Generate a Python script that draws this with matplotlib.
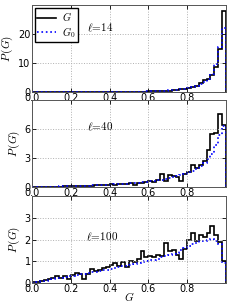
import numpy as np
import matplotlib
matplotlib.use('Agg')
import matplotlib.pyplot as plt

plt.rcParams['mathtext.fontset'] = 'cm'
plt.rcParams['font.family'] = 'DejaVu Sans'

# bin edges shared by all histograms (50 bins on [0, 1])
edges = np.linspace(0.0, 1.0, 51)

# l = 14
g14 = [0]*20 + [0.0, 0.0, 0.02, 0.03, 0.05, 0.06, 0.08, 0.1, 0.12, 0.15,
                0.2, 0.25, 0.3, 0.35, 0.4, 0.5, 0.6, 0.7, 0.9, 1.1,
                1.4, 1.6, 2.2, 3.0, 4.0, 4.5, 6.0, 8.5, 15.0, 28.0]
g0_14 = [0]*20 + [0.01, 0.02, 0.03, 0.04, 0.05, 0.07, 0.09, 0.11, 0.14, 0.17,
                  0.21, 0.26, 0.32, 0.38, 0.46, 0.55, 0.66, 0.8, 0.98, 1.2,
                  1.45, 1.8, 2.2, 2.8, 3.5, 4.6, 6.2, 9.5, 15.5, 22.0]

# l = 40
g40 = [0.0, 0.0, 0.01, 0.01, 0.02, 0.03, 0.04, 0.05, 0.06, 0.07,
       0.08, 0.1, 0.1, 0.12, 0.14, 0.15, 0.18, 0.2, 0.2, 0.22,
       0.3, 0.25, 0.3, 0.35, 0.3, 0.4, 0.2, 0.45, 0.4, 0.5,
       0.6, 0.55, 0.7, 1.3, 0.6, 1.2, 1.1, 1.0, 0.6, 1.3,
       1.6, 2.3, 2.0, 2.3, 2.7, 3.8, 5.5, 5.6, 7.6, 6.4]
g0_40 = [0.0, 0.0, 0.01, 0.02, 0.03, 0.04, 0.05, 0.06, 0.07, 0.08,
         0.09, 0.1, 0.11, 0.13, 0.14, 0.16, 0.17, 0.19, 0.21, 0.23,
         0.25, 0.27, 0.3, 0.32, 0.35, 0.38, 0.41, 0.45, 0.49, 0.53,
         0.58, 0.63, 0.69, 0.75, 0.83, 0.9, 1.0, 1.1, 1.22, 1.36,
         1.52, 1.7, 1.9, 2.15, 2.45, 2.85, 3.4, 4.3, 5.4, 6.3]

# l = 100
g100 = [0.03, 0.06, 0.1, 0.12, 0.18, 0.22, 0.3, 0.22, 0.32, 0.2,
        0.38, 0.45, 0.4, 0.2, 0.42, 0.65, 0.55, 0.62, 0.7, 0.72,
        0.85, 0.9, 0.78, 0.95, 0.72, 1.0, 0.95, 1.1, 1.45, 1.2,
        1.25, 1.18, 1.3, 1.22, 1.85, 1.45, 1.5, 1.3, 1.1, 1.55,
        2.0, 2.3, 1.95, 2.2, 2.1, 2.3, 2.6, 2.2, 1.9, 1.0]
g0_100 = [0.02, 0.05, 0.08, 0.1, 0.14, 0.18, 0.22, 0.24, 0.28, 0.3,
          0.34, 0.38, 0.4, 0.42, 0.45, 0.5, 0.52, 0.55, 0.6, 0.62,
          0.66, 0.7, 0.72, 0.76, 0.8, 0.85, 0.88, 0.92, 0.95, 1.0,
          1.05, 1.08, 1.12, 1.18, 1.22, 1.3, 1.35, 1.4, 1.5, 1.6,
          1.72, 1.8, 1.85, 1.92, 1.95, 2.0, 2.02, 1.95, 1.8, 0.9]

ell_labels = [r'$\ell\!=\!14$', r'$\ell\!=\!40$', r'$\ell\!=\!100$']
ylims = [30, 9, 4]
yticks = [[0, 10, 20], [0, 3, 6], [0, 1, 2, 3]]
label_pos = [(0.35, 22), (0.35, 6.2), (0.36, 2.1)]
xticks = [0.0, 0.2, 0.4, 0.6, 0.8]

fig = plt.figure(figsize=(2.49, 3.02), dpi=100)
boxes = [[0.1285, 0.6954, 0.779, 0.288],
         [0.1285, 0.3808, 0.779, 0.288],
         [0.1285, 0.0629, 0.779, 0.288]]

data = [(g14, g0_14), (g40, g0_40), (g100, g0_100)]
for i, (g, g0) in enumerate(data):
    ax = fig.add_axes(boxes[i])
    ax.stairs(g, edges, color='black', lw=1.2, label=r'$G$')
    ax.stairs(g0, edges, color='blue', lw=1.2, ls=':', label=r'$G_0$')
    ax.set_xlim(0, 1)
    ax.set_ylim(0, ylims[i])
    ax.set_xticks(xticks)
    ax.set_yticks(yticks[i])
    ax.grid(True, color='#b0b0b0', ls=':', lw=0.7)
    ax.tick_params(labelsize=7, direction='in', length=3, width=0.6, pad=1,
                   top=True, right=True)
    for s in ax.spines.values():
        s.set_linewidth(0.7)
        s.set_color('#555555')
    ax.set_ylabel(r'$P\,(G)$', fontsize=8, labelpad=2)
    ax.text(label_pos[i][0], label_pos[i][1], ell_labels[i], fontsize=8,
            ha='center', va='center')
    if i == 0:
        ax.legend(loc='upper left', fontsize=7.5, fancybox=False, framealpha=1,
                  edgecolor='black', handlelength=1.8, borderpad=0.25,
                  labelspacing=0.15, handletextpad=0.6, borderaxespad=0.25)
    if i == 2:
        ax.set_xlabel(r'$G$', fontsize=8)
        ax.xaxis.set_label_coords(0.5, -0.085)

fig.savefig('out.png', dpi=100)
